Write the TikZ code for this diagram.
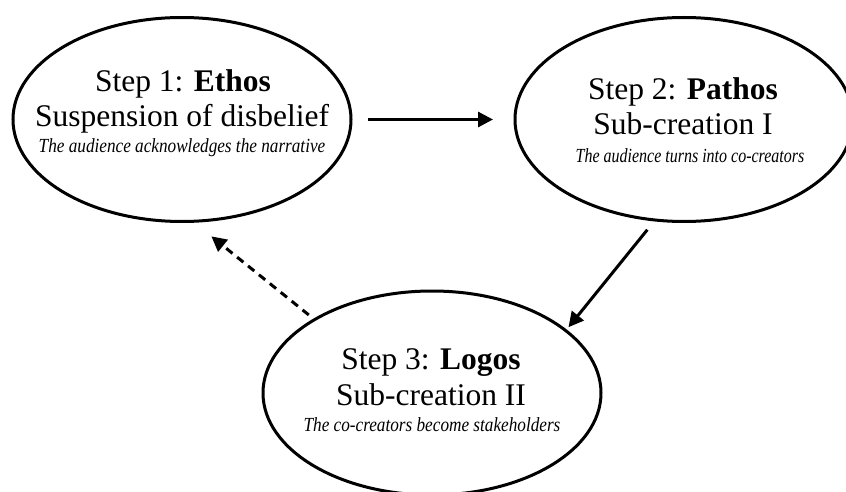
\documentclass[tikz,border=0pt]{standalone}
\usepackage{fontspec}
\setmainfont{Liberation Serif}
\usetikzlibrary{arrows.meta,shapes.geometric}
\begin{document}
\begin{tikzpicture}[x=1pt,y=-1pt,
  stepell/.style={draw=black, line width=3pt, ellipse, minimum width=338pt, minimum height=204pt, inner sep=0pt, outer sep=0pt},
  bigline/.style={anchor=base, inner sep=0pt, font=\fontsize{31.5}{36}\selectfont},
  smallline/.style={anchor=base, inner sep=0pt, font=\fontsize{20}{24}\selectfont\itshape\addfontfeature{FakeStretch=0.86}},
  conn/.style={line width=3pt, -{Triangle[length=15pt,width=15pt]}},
]
\useasboundingbox (0,0) rectangle (846,492);
\node[stepell] (e1) at (182,119.5) {};
\node[stepell] (e2) at (684,119.5) {};
\node[stepell] (e3) at (432,393) {};
\node[bigline] (e1a) at (183,92) {Step 1: \textbf{Ethos}};
\node[bigline] (e1b) at (182,127) {Suspension of disbelief};
\node[smallline] (e1c) at (182,153) {The audience acknowledges the narrative};
\node[bigline] (e2a) at (683,100) {Step 2: \textbf{Pathos}};
\node[bigline] (e2b) at (683,135) {Sub-creation I};
\node[smallline, font=\fontsize{20}{24}\selectfont\itshape\addfontfeature{FakeStretch=0.8}] (e2c) at (690,162) {The audience turns into co-creators};
\node[bigline] (e3a) at (431,369) {Step 3: \textbf{Logos}};
\node[bigline] (e3b) at (431,405) {Sub-creation II};
\node[smallline] (e3c) at (432,431) {The co-creators become stakeholders};
\draw[conn, shorten <=17pt, shorten >=22pt] (e1.east) -- (e2.west);
\draw[conn, shorten <=12.5pt, shorten >=4.4pt] (e2.-106.2) -- (e3.25.7);
\draw[conn, dash pattern=on 8pt off 6pt, shorten <=7.5pt, shorten >=24pt] (e3.148.8) -- (e1.-84.7);
\end{tikzpicture}
\end{document}
